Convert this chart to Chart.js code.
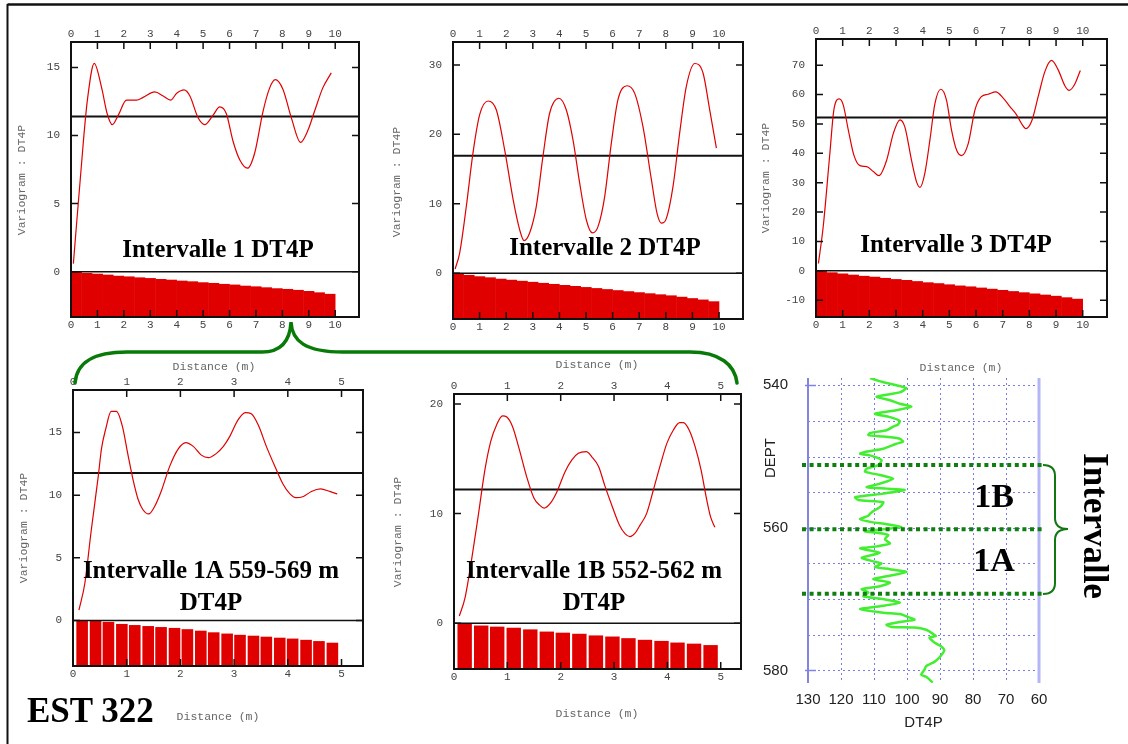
<!DOCTYPE html>
<html lang="fr">
<head>
<meta charset="UTF-8">
<title>EST 322 - Variogrammes DT4P</title>
<script src="https://cdn.jsdelivr.net/npm/chart.js"></script>
<style>
  html, body { margin: 0; background: #fff; }
  #page { position: relative; width: 1128px; height: 744px; overflow: hidden; background: #fff; }
  canvas { position: absolute; }
  #notes { position: absolute; left: 0; top: 0; pointer-events: none; }
  .ttl { font: bold 25px "Liberation Serif", "Times New Roman", serif; fill: #000; }
  .ax { font: 11.5px "Liberation Mono", "Courier New", monospace; fill: #666; }
  .big { font: bold 35px "Liberation Serif", "Times New Roman", serif; fill: #000; }
  .sans { font: 15px "Liberation Sans", Arial, sans-serif; fill: #222; }
</style>
</head>
<body>
<div id="page">
<svg id="notes" width="1128" height="744" viewBox="0 0 1128 744">
  <line x1="7.5" y1="4.5" x2="1128" y2="4.5" stroke="#111" stroke-width="2.5"/>
  <line x1="7.5" y1="4" x2="7.5" y2="744" stroke="#111" stroke-width="2"/>

  <text class="ttl" x="218" y="257" text-anchor="middle">Intervalle 1 DT4P</text>
  <text class="ttl" x="605" y="255" text-anchor="middle">Intervalle 2 DT4P</text>
  <text class="ttl" x="956" y="252" text-anchor="middle">Intervalle 3 DT4P</text>
  <text class="ttl" x="211" y="578" text-anchor="middle">Intervalle 1A 559-569 m</text>
  <text class="ttl" x="211" y="610" text-anchor="middle">DT4P</text>
  <text class="ttl" x="594" y="578" text-anchor="middle">Intervalle 1B 552-562 m</text>
  <text class="ttl" x="594" y="610" text-anchor="middle">DT4P</text>

  <text class="ax" transform="translate(21,180) rotate(-90)" text-anchor="middle" dominant-baseline="central">Variogram : DT4P</text>
  <text class="ax" transform="translate(396,182) rotate(-90)" text-anchor="middle" dominant-baseline="central">Variogram : DT4P</text>
  <text class="ax" transform="translate(765,178) rotate(-90)" text-anchor="middle" dominant-baseline="central">Variogram : DT4P</text>
  <text class="ax" transform="translate(23,528) rotate(-90)" text-anchor="middle" dominant-baseline="central">Variogram : DT4P</text>
  <text class="ax" transform="translate(397,532) rotate(-90)" text-anchor="middle" dominant-baseline="central">Variogram : DT4P</text>

  <text class="ax" x="214" y="366" text-anchor="middle" dominant-baseline="central">Distance (m)</text>
  <text class="ax" x="597" y="364" text-anchor="middle" dominant-baseline="central">Distance (m)</text>
  <text class="ax" x="961" y="367" text-anchor="middle" dominant-baseline="central">Distance (m)</text>
  <text class="ax" x="218" y="716" text-anchor="middle" dominant-baseline="central">Distance (m)</text>
  <text class="ax" x="597" y="713" text-anchor="middle" dominant-baseline="central">Distance (m)</text>

  <text class="sans" transform="translate(769,458) rotate(-90)" text-anchor="middle" dominant-baseline="central">DEPT</text>

  <path d="M75,383 C77,361 95,352 127,352 L262,352 C281,352 290,341 291,322 C292,341 305,352 343,352 L690,352 C720,352 735,365 737,383"
        fill="none" stroke="#087a08" stroke-width="3.5" stroke-linecap="round"/>
  <path d="M1043,465 Q1055,465 1055,476 L1055,518 Q1055,529 1068,529 Q1055,529 1055,540 L1055,583 Q1055,594 1043,594"
        fill="none" stroke="#117711" stroke-width="2"/>

  <text class="big" x="27" y="722">EST 322</text>
  <text class="big" x="994" y="507" text-anchor="middle" style="font-size:34px">1B</text>
  <text class="big" x="994" y="571" text-anchor="middle" style="font-size:34px">1A</text>
  <text class="big" transform="translate(1084,526) rotate(90)" text-anchor="middle">Intervalle</text>
</svg>
</div>
<script>
// ---- variogram panels: lag distance (m) and variogram value ----
const xTicksLong = [0, 1, 2, 3, 4, 5, 6, 7, 8, 9, 10];
const xTicksShort = [0, 1, 2, 3, 4, 5];

const lags1 = [0.09,0.47,0.62,0.88,1.16,1.37,1.56,1.79,2.1,2.48,2.73,3.17,3.49,3.77,4.0,4.28,4.5,4.81,5.06,5.38,5.63,5.88,6.13,6.39,6.68,6.95,7.27,7.52,7.73,8.02,8.34,8.69,8.97,9.22,9.53,9.85];
const gamma1 = [0.59,9.6,12.6,15.3,13.5,11.6,10.8,11.5,12.6,12.6,12.8,13.2,12.9,12.6,13.1,13.35,12.9,11.3,10.8,11.5,12.1,11.6,9.6,8.2,7.6,8.7,11.8,13.5,14.1,13.4,11.3,9.5,10.4,11.8,13.5,14.6];
const yTicks1 = [0, 5, 10, 15];
const sill1 = 11.39;

const lags2 = [0.08,0.25,0.5,0.75,1.0,1.32,1.63,1.94,2.26,2.51,2.67,2.88,3.13,3.38,3.63,3.98,4.26,4.51,4.76,5.01,5.24,5.45,5.7,5.95,6.2,6.54,6.83,7.14,7.46,7.67,7.83,8.02,8.27,8.52,8.77,9.09,9.4,9.65,9.9];
const gamma2 = [0.6,2.9,9.6,17.3,22.8,24.8,23.5,17.8,10.6,6.2,4.7,5.8,9.6,16.8,23.0,25.2,23.5,19.2,13.0,7.7,5.8,6.7,11.0,18.7,25.0,27.0,25.9,21.1,13.4,8.6,7.2,7.9,12.5,20.2,26.9,30.2,28.8,23.5,18.0];
const yTicks2 = [0, 10, 20, 30];
const sill2 = 16.9;

const lags3 = [0.09,0.27,0.52,0.67,0.87,1.02,1.21,1.42,1.65,1.9,2.15,2.36,2.65,2.9,3.15,3.33,3.58,3.77,3.9,4.08,4.27,4.46,4.68,4.89,5.08,5.27,5.46,5.71,5.96,6.2,6.45,6.74,7.02,7.27,7.52,7.7,7.87,8.08,8.33,8.58,8.83,9.08,9.33,9.49,9.7,9.91];
const gamma3 = [2.5,15,40,54.8,58.5,56.5,48,39.4,35.8,35.5,33.8,32.4,37.7,46.8,51.4,49,37.7,30.3,28.4,33.2,44.5,57,61.8,58.2,48,41.1,39.2,43.4,54.8,59.3,60.1,60.9,58.8,55.9,53.1,50.2,48.4,50.8,59.3,67.8,71.6,68.4,63,61.4,63.5,68.2];
const yTicks3 = [-10, 0, 10, 20, 30, 40, 50, 60, 70];
const sill3 = 52.2;

const lags1A = [0.11,0.22,0.34,0.47,0.53,0.61,0.71,0.81,0.92,1.02,1.12,1.21,1.3,1.41,1.52,1.65,1.8,1.96,2.1,2.24,2.39,2.52,2.66,2.8,2.92,3.07,3.21,3.32,3.45,3.6,3.76,3.91,4.04,4.15,4.29,4.44,4.61,4.78,4.92];
const gamma1A = [0.82,2.95,7.2,11.5,13.7,15.3,16.7,16.7,15.5,13.3,11.2,9.7,8.86,8.5,9.1,10.4,12.3,13.7,14.2,13.9,13.2,13.0,13.3,13.9,14.7,16.0,16.6,16.5,15.6,13.9,12.3,10.9,10.1,9.8,9.9,10.3,10.5,10.3,10.1];
const yTicks1A = [0, 5, 10, 15];
const sill1A = 11.78;

const lags1B = [0.1,0.21,0.33,0.46,0.58,0.69,0.8,0.91,0.99,1.1,1.21,1.36,1.5,1.6,1.69,1.8,1.93,2.08,2.21,2.33,2.48,2.58,2.71,2.83,2.97,3.1,3.21,3.3,3.39,3.49,3.61,3.74,3.86,3.99,4.11,4.23,4.3,4.41,4.52,4.63,4.74,4.81,4.89];
const gamma1B = [0.67,2.4,5.8,10.0,14.0,16.6,18.1,18.9,18.8,17.9,16.1,13.4,11.4,10.8,10.5,10.9,12.0,13.8,14.9,15.5,15.65,15.2,14.3,12.5,10.6,8.97,8.15,7.9,8.2,8.97,10.0,12.2,14.3,16.4,17.6,18.3,18.3,17.6,16.1,14.0,11.2,9.7,8.75];
const yTicks1B = [0, 10, 20];
const sill1B = 12.2;

// ---- pair-count histograms drawn under the zero line ----
const barLagsTop = [0.2,0.6,1.0,1.4,1.8,2.2,2.6,3.0,3.4,3.8,4.2,4.6,5.0,5.4,5.8,6.2,6.6,7.0,7.4,7.8,8.2,8.6,9.0,9.4,9.8];
const pairs1 = [0,-0.1,-0.15,-0.22,-0.3,-0.35,-0.42,-0.47,-0.54,-0.59,-0.66,-0.71,-0.78,-0.83,-0.9,-0.95,-1.03,-1.08,-1.15,-1.22,-1.27,-1.34,-1.42,-1.52,-1.63];
const pairs2 = [0,-0.25,-0.45,-0.6,-0.8,-0.95,-1.1,-1.25,-1.4,-1.55,-1.7,-1.85,-2.0,-2.15,-2.3,-2.45,-2.6,-2.75,-2.9,-3.05,-3.2,-3.4,-3.6,-3.8,-4.05];
const pairs3 = [0,-0.5,-0.9,-1.3,-1.7,-2.0,-2.4,-2.8,-3.1,-3.5,-3.9,-4.2,-4.6,-5.0,-5.3,-5.7,-6.1,-6.5,-6.9,-7.3,-7.7,-8.1,-8.5,-9.0,-9.5];
const barLags1A = [0.17,0.42,0.66,0.91,1.15,1.40,1.64,1.89,2.13,2.38,2.62,2.87,3.11,3.36,3.60,3.85,4.09,4.34,4.58,4.83];
const pairs1A = [0,0,-0.12,-0.28,-0.37,-0.45,-0.53,-0.6,-0.7,-0.82,-0.95,-1.05,-1.15,-1.22,-1.3,-1.38,-1.45,-1.55,-1.65,-1.78];
const barLags1B = [0.20,0.51,0.81,1.12,1.43,1.74,2.04,2.35,2.66,2.97,3.27,3.58,3.89,4.19,4.50,4.81];
const pairs1B = [0,-0.2,-0.3,-0.4,-0.55,-0.75,-0.85,-0.95,-1.1,-1.2,-1.35,-1.5,-1.6,-1.75,-1.85,-1.98];

// ---- DT4P well log ----
const depth = [539.0,539.5,540.0,540.4,541.0,541.6,542.1,542.6,543.0,543.5,544.0,544.4,545.0,545.5,545.8,546.3,546.7,547.0,547.2,547.5,547.9,548.2,548.9,549.3,549.6,549.9,550.5,551.2,551.7,552.1,552.6,553.1,553.8,554.3,554.5,554.7,555.2,555.7,556.1,556.4,557.1,557.5,558.0,558.3,558.8,559.2,559.5,559.9,560.2,
  560.5,560.7,561.0,561.6,562.2,562.6,562.9,563.5,564.2,564.7,565.0,565.5,565.8,566.2,566.8,567.2,567.7,568.2,568.6,569.1,569.6,570.0,570.5,571.0,571.4,571.9,572.1,572.5,572.9,573.2,573.6,573.9,574.0,574.3,574.7,575.2,575.4,576.1,576.6,577.2,578.2,578.8,579.4,579.9,580.6,580.9,581.7];
const dt4p = [111.2,107.7,103.2,100.2,102.2,109.2,105.2,102.2,98.7,103.2,109.7,105.7,102.2,102.7,104.2,106.2,111.2,111.7,107.2,102.2,101.2,103.2,107.2,112.2,114.2,110.7,107.7,108.7,112.2,112.7,108.2,104.2,108.2,112.2,106.2,100.7,107.2,115.7,114.7,107.2,108.2,109.7,111.2,111.7,114.2,110.7,106.2,101.7,107.2,
  112.7,109.2,105.7,106.7,105.2,109.2,114.2,108.2,113.7,110.2,107.7,109.7,105.2,100.2,106.2,110.2,105.2,108.2,113.7,111.7,113.2,107.2,102.2,108.2,114.2,107.2,102.2,99.7,97.7,102.2,106.2,104.7,97.7,94.2,92.7,91.2,93.2,91.7,89.7,88.7,90.2,91.7,94.2,94.7,95.7,94.2,92.2];
const dtTicks = [130, 120, 110, 100, 90, 80, 70, 60];
const dtGrid = [120, 110, 100, 90, 80, 70];
const depthTicks = [540, 560, 580];
const depthGrid = [540, 545, 550, 555, 560, 565, 570, 575, 580];
const zoneDepths = [551.2, 560.2, 569.25];

const page = document.getElementById('page');
const notes = document.getElementById('notes');

function makeCanvas(left, top, w, h) {
  const c = document.createElement('canvas');
  c.width = w; c.height = h;
  c.style.left = left + 'px'; c.style.top = top + 'px';
  page.insertBefore(c, notes);
  return c;
}

// inward ticks on all four sides + frame
const frameTicks = {
  id: 'frameTicks',
  afterDatasetsDraw(chart) {
    const {ctx, chartArea: a, scales: {x, y}} = chart;
    ctx.save();
    ctx.strokeStyle = '#111';
    ctx.lineWidth = 1.5;
    ctx.beginPath();
    x.ticks.forEach(t => {
      const px = x.getPixelForValue(t.value);
      ctx.moveTo(px, a.top); ctx.lineTo(px, a.top + 7);
      ctx.moveTo(px, a.bottom); ctx.lineTo(px, a.bottom - 7);
    });
    y.ticks.forEach(t => {
      const py = y.getPixelForValue(t.value);
      ctx.moveTo(a.left, py); ctx.lineTo(a.left + 7, py);
      ctx.moveTo(a.right, py); ctx.lineTo(a.right - 7, py);
    });
    ctx.stroke();
    ctx.lineWidth = 2;
    ctx.strokeRect(a.left, a.top, a.right - a.left, a.bottom - a.top);
    ctx.restore();
  }
};

const PAD_L = 45, PAD_T = 25, PAD_B = 25, PAD_R = 12;
const monoFont = {family: '"Liberation Mono", "Courier New", monospace', size: 11};

function variogram(p) {
  const c = makeCanvas(p.left - PAD_L, p.top - PAD_T, p.width + PAD_L + PAD_R, p.height + PAD_T + PAD_B);
  const xAxis = pos => ({
    type: 'linear', position: pos, min: 0, max: p.xMax, offset: false,
    grid: {display: false, drawTicks: false, offset: false}, border: {display: false},
    ticks: {font: monoFont, color: '#444', padding: 1, maxRotation: 0, autoSkip: false},
    afterBuildTicks: s => { s.ticks = p.xTicks.map(v => ({value: v})); },
    afterFit: s => { s.height = pos === 'top' ? PAD_T : PAD_B; s.paddingLeft = 0; s.paddingRight = 0; }
  });
  new Chart(c, {
    type: 'line',
    data: {
      datasets: [
        {data: p.lags.map((v, i) => ({x: v, y: p.gamma[i]})), borderColor: '#e00000', borderWidth: 1.2,
         pointRadius: 0, cubicInterpolationMode: 'monotone', fill: false},
        {data: [{x: 0, y: p.sill}, {x: p.xMax, y: p.sill}], borderColor: '#111', borderWidth: 2, pointRadius: 0},
        {data: [{x: 0, y: 0}, {x: p.xMax, y: 0}], borderColor: '#111', borderWidth: 1.5, pointRadius: 0},
        {type: 'bar', data: p.barX.map((v, i) => ({x: v, y: p.barY[i]})), base: p.yMin,
         backgroundColor: '#e00000', borderWidth: 0, barPercentage: p.barPct, categoryPercentage: 1}
      ]
    },
    options: {
      responsive: false, animation: false, devicePixelRatio: 1, events: [],
      layout: {padding: {left: 0, top: 0, right: PAD_R, bottom: 0}},
      plugins: {legend: {display: false}, tooltip: {enabled: false}},
      scales: {
        x: xAxis('bottom'),
        x2: xAxis('top'),
        y: {
          type: 'linear', min: p.yMin, max: p.yMax,
          grid: {display: false, drawTicks: false}, border: {display: false},
          ticks: {font: monoFont, color: '#444', padding: 11, autoSkip: false},
          afterBuildTicks: s => { s.ticks = p.yTicks.map(v => ({value: v})); },
          afterFit: s => { s.width = PAD_L; s.paddingTop = 0; s.paddingBottom = 0; }
        }
      }
    },
    plugins: [frameTicks]
  });
}

variogram({left: 71, top: 42, width: 288, height: 275, xMax: 10.9, yMin: -3.33, yMax: 16.87,
  xTicks: xTicksLong, yTicks: yTicks1, lags: lags1, gamma: gamma1, sill: sill1, barX: barLagsTop, barY: pairs1, barPct: 1.05});
variogram({left: 453, top: 42, width: 290, height: 277, xMax: 10.9, yMin: -6.6, yMax: 33.3,
  xTicks: xTicksLong, yTicks: yTicks2, lags: lags2, gamma: gamma2, sill: sill2, barX: barLagsTop, barY: pairs2, barPct: 1.05});
variogram({left: 816, top: 39, width: 291, height: 278, xMax: 10.91, yMin: -15.7, yMax: 78.9,
  xTicks: xTicksLong, yTicks: yTicks3, lags: lags3, gamma: gamma3, sill: sill3, barX: barLagsTop, barY: pairs3, barPct: 1.05});
variogram({left: 73, top: 390, width: 290, height: 276, xMax: 5.4, yMin: -3.64, yMax: 18.4,
  xTicks: xTicksShort, yTicks: yTicks1A, lags: lags1A, gamma: gamma1A, sill: sill1A, barX: barLags1A, barY: pairs1A, barPct: 0.9});
variogram({left: 454, top: 394, width: 287, height: 275, xMax: 5.38, yMin: -4.16, yMax: 20.9,
  xTicks: xTicksShort, yTicks: yTicks1B, lags: lags1B, gamma: gamma1B, sill: sill1B, barX: barLags1B, barY: pairs1B, barPct: 0.9});

// ---- well log chart ----
const logGrid = {
  id: 'logGrid',
  beforeDatasetsDraw(chart) {
    const {ctx, chartArea: a, scales: {x, y}} = chart;
    ctx.save();
    ctx.strokeStyle = '#7b7be8';
    ctx.lineWidth = 1;
    ctx.setLineDash([2, 3]);
    ctx.beginPath();
    dtGrid.forEach(v => {
      const px = Math.round(x.getPixelForValue(v)) + 0.5;
      ctx.moveTo(px, a.top); ctx.lineTo(px, a.bottom);
    });
    depthGrid.forEach(v => {
      const py = Math.round(y.getPixelForValue(v)) + 0.5;
      ctx.moveTo(a.left, py); ctx.lineTo(a.right, py);
    });
    ctx.stroke();
    ctx.setLineDash([]);
    ctx.strokeStyle = '#b6b6f6';
    ctx.lineWidth = 3;
    ctx.beginPath(); ctx.moveTo(a.right, a.top); ctx.lineTo(a.right, a.bottom); ctx.stroke();
    ctx.strokeStyle = '#8383e2';
    ctx.lineWidth = 2;
    ctx.beginPath(); ctx.moveTo(a.left, a.top); ctx.lineTo(a.left, a.bottom); ctx.stroke();
    ctx.lineWidth = 1.5;
    ctx.beginPath();
    depthTicks.forEach(v => {
      const py = Math.round(y.getPixelForValue(v)) + 0.5;
      ctx.moveTo(a.left - 3, py); ctx.lineTo(a.left + 8, py);
    });
    ctx.stroke();
    ctx.restore();
  },
  afterDatasetsDraw(chart) {
    const {ctx, chartArea: a, scales: {y}} = chart;
    ctx.save();
    ctx.strokeStyle = '#0f7f0f';
    ctx.lineWidth = 4;
    ctx.setLineDash([4, 3.6]);
    ctx.beginPath();
    zoneDepths.forEach(v => {
      const py = y.getPixelForValue(v);
      ctx.moveTo(a.left - 6, py); ctx.lineTo(a.right + 6, py);
    });
    ctx.stroke();
    ctx.restore();
  }
};

const sansFont = {family: '"Liberation Sans", Arial, sans-serif', size: 15};
const logCanvas = makeCanvas(740, 365, 320, 370);
new Chart(logCanvas, {
  type: 'scatter',
  data: {
    datasets: [{
      data: depth.map((d, i) => ({x: dt4p[i], y: d})),
      showLine: true, borderColor: '#42ee30', borderWidth: 2.5, pointRadius: 0, tension: 0.2
    }]
  },
  options: {
    responsive: false, animation: false, devicePixelRatio: 1, events: [],
    layout: {padding: {left: 0, top: 13, right: 21, bottom: 0}},
    plugins: {legend: {display: false}, tooltip: {enabled: false}},
    scales: {
      x: {
        type: 'linear', reverse: true, min: 60, max: 130,
        grid: {display: false, drawTicks: false}, border: {display: false},
        ticks: {font: sansFont, color: '#222', padding: 8, maxRotation: 0, autoSkip: false},
        afterBuildTicks: s => { s.ticks = dtTicks.map(v => ({value: v})); },
        afterFit: s => { s.height = 52; s.paddingLeft = 0; s.paddingRight = 0; },
        title: {display: true, text: 'DT4P', font: sansFont, color: '#222', padding: {top: 0, bottom: 3}}
      },
      y: {
        type: 'linear', reverse: true, min: 538.98, max: 581.77,
        grid: {display: false, drawTicks: false}, border: {display: false},
        ticks: {font: sansFont, color: '#222', padding: 20, autoSkip: false},
        afterBuildTicks: s => { s.ticks = depthTicks.map(v => ({value: v})); },
        afterFit: s => { s.width = 68; s.paddingTop = 0; s.paddingBottom = 0; }
      }
    }
  },
  plugins: [logGrid]
});
</script>
</body>
</html>
